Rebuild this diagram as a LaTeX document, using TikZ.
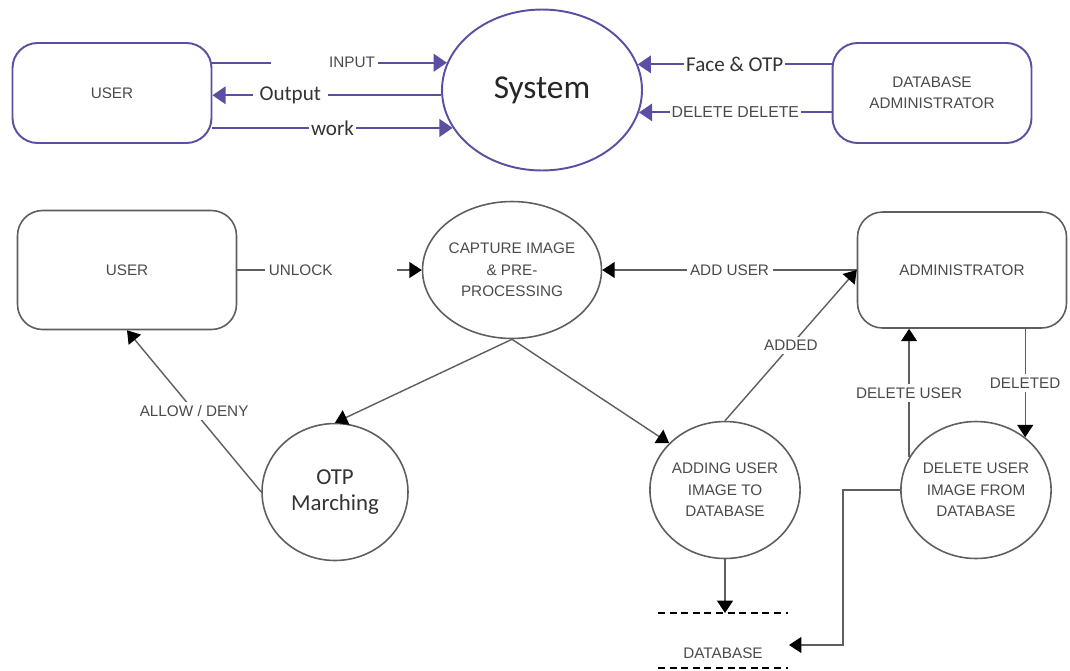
\documentclass[tikz,border=0pt]{standalone}
\usepackage{fontspec}
\setmainfont{Liberation Sans}
\newfontfamily\calib{Carlito}
\usetikzlibrary{arrows.meta,positioning,shapes.geometric}
\definecolor{pur}{HTML}{5B4FA3}
\definecolor{ln}{HTML}{5E5E5E}
\definecolor{tx}{HTML}{4A4A4A}

\begin{document}
\begin{tikzpicture}[x=0.02cm, y=-0.02cm,
    font=\fontsize{8.7}{12.3}\selectfont,
    tbox/.style={draw=pur, line width=1.1pt, rounded corners=0.5cm, minimum width=3.98cm, minimum height=2cm, text=tx},
    bbox/.style={draw=ln, line width=0.9pt, rounded corners=0.5cm, text=tx},
    proc/.style={draw=ln, line width=0.9pt, ellipse, minimum width=2.92cm, minimum height=2.74cm, inner sep=0pt, align=center, text=tx},
    parr/.style={draw=pur, line width=1.1pt, -{Triangle[length=7.5pt,width=10pt]}},
    barr/.style={draw=ln, line width=0.8pt, -{Triangle[length=7pt,width=9pt,color=black]}},
    lbl/.style={fill=white, inner sep=2pt, text=tx},
    cal/.style={font=\calib\fontsize{12}{14}\selectfont, text=black!80}]

    \useasboundingbox (0,0) rectangle (1070,670);

    \node[tbox] (U) at (112,93) {USER};
    \node[draw=pur, line width=1.1pt, ellipse, minimum width=4cm, minimum height=3.22cm,
          font=\calib\fontsize{19}{23}\selectfont, text=black!85] (S) at (542,90) {System};
    \node[tbox, align=center, font=\fontsize{8.7}{11.7}\selectfont] (DA) at (932,93) {DATABASE\\ADMINISTRATOR};

    \draw[parr] (S.164 -| U.east) -- node[lbl, pos=0.48, text width=2cm, align=right] {INPUT} (S.164);
    \draw[parr] (S.183) -- node[lbl, cal, pos=0.66, inner sep=4pt] {Output} (S.183 -| U.east);
    \draw[parr] (S.203 -| U.east) -- node[lbl, cal, inner sep=1pt] {work} (S.203);
    \draw[parr] (S.15 -| DA.west) -- node[lbl, cal, inner sep=1pt] {Face \& OTP} (S.15);
    \draw[parr] (S.-13 -| DA.west) -- node[lbl, inner sep=1pt, font=\fontsize{9}{11}\selectfont] {DELETE DELETE} (S.-13);

    \node[bbox, minimum width=4.38cm, minimum height=2.38cm] (U2) at (127,270) {USER};
    \node[proc] (CP) at (512,270) {CAPTURE IMAGE\\\& PRE-\\PROCESSING};
    \node[bbox, minimum width=4.18cm, minimum height=2.32cm] (AM) at (962,270) {ADMINISTRATOR};
    \node[proc, font=\calib\fontsize{13}{14.5}\selectfont, text=black!80] (OTP) at (335,492) {OTP\\Marching};
    \node[proc] (AD) at (725,490) {ADDING USER\\IMAGE TO\\DATABASE};
    \node[proc] (DL) at (976,490) {DELETE USER\\IMAGE FROM\\DATABASE};
    \node[text=tx] (DB) at (723,653) {DATABASE};
    \coordinate (dbtop) at (723,613);
    \coordinate (dbin) at (789,645);

    \draw[line width=1.3pt, dash pattern=on 4pt off 2.6pt] (658,613) -- (788,613);
    \draw[line width=1.3pt, dash pattern=on 4pt off 2.6pt] (658,668) -- (788,668);

    \draw[barr] (U2.east) -- node[lbl, pos=0.51, text width=2.5cm, align=left] {UNLOCK} (CP.west);
    \draw[barr] (AM.west) -- node[lbl] {ADD USER} (CP.east);
    \draw[barr] (AD.north) -- node[lbl] {ADDED} (AM.west);
    \draw[barr] (CP.south) -- (OTP.north);
    \draw[barr] (CP.south) -- (AD.140);
    \draw[barr] (OTP.west) -- node[lbl] {ALLOW / DENY} (U2.south);
    \draw[barr] (DL.154) -- node[lbl] {DELETE USER} (DL.154 |- AM.south);
    \draw[barr] (DL.47 |- AM.south) -- node[lbl] {DELETED} (DL.47);
    \draw[barr] (AD.south) -- (AD.south |- dbtop);
    \draw[barr] (DL.west) -- ++(-57,0) |- (dbin);
\end{tikzpicture}
\end{document}
